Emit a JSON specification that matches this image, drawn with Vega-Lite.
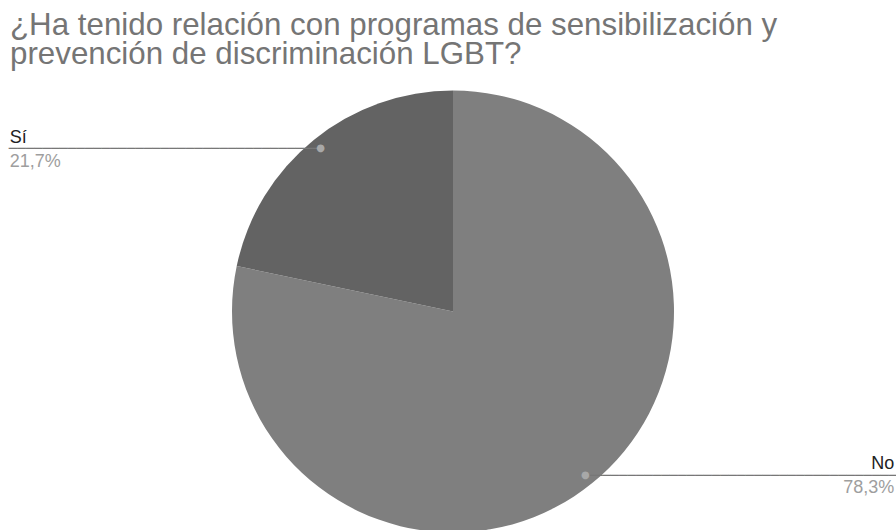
{
  "$schema": "https://vega.github.io/schema/vega-lite/v6.json",
  "width": 886,
  "height": 437,
  "autosize": {"type": "none"},
  "padding": {"left": 10, "top": 93, "right": 0, "bottom": 0},
  "background": "white",
  "title": {
    "text": ["¿Ha tenido relación con programas de sensibilización y", "prevención de discriminación LGBT?"],
    "anchor": "start",
    "frame": "group",
    "font": "Liberation Sans",
    "fontSize": 31.3,
    "fontWeight": "normal",
    "color": "#757575",
    "lineHeight": 29.5,
    "baseline": "alphabetic",
    "offset": -5
  },
  "data": {
    "values": [
      {"respuesta": "No", "proporcion": 0.783},
      {"respuesta": "Sí", "proporcion": 0.217}
    ]
  },
  "encoding": {
    "theta": {"field": "proporcion", "type": "quantitative", "stack": true},
    "order": {"field": "respuesta", "type": "ordinal", "sort": "ascending"}
  },
  "layer": [
    {
      "mark": {"type": "arc", "radius": 221, "strokeWidth": 0},
      "encoding": {
        "color": {
          "field": "respuesta",
          "type": "nominal",
          "scale": {"domain": ["No", "Sí"], "range": ["#7f7f7f", "#636363"]},
          "legend": null
        }
      }
    },
    {
      "mark": {"type": "text", "radius": 210, "align": "right", "baseline": "middle", "font": "DejaVu Sans Mono", "fontSize": 14, "color": "#777777", "dy": 1},
      "encoding": {
        "text": {"condition": {"test": "datum.respuesta === 'Sí'", "value": "─────────────────────────────────────"}, "value": ""}
      }
    },
    {
      "mark": {"type": "text", "radius": 210, "align": "left", "baseline": "middle", "font": "DejaVu Sans Mono", "fontSize": 14, "color": "#777777", "dy": 1},
      "encoding": {
        "text": {"condition": {"test": "datum.respuesta === 'No'", "value": "─────────────────────────────────────"}, "value": ""}
      }
    },
    {
      "mark": {"type": "text", "radius": 210, "align": "center", "baseline": "middle", "font": "DejaVu Sans", "fontSize": 10, "color": "#a8a8a8", "text": "●"}
    },
    {
      "mark": {"type": "text", "radius": 210, "align": "left", "baseline": "alphabetic", "font": "Liberation Sans", "fontSize": 18, "color": "#222222", "dx": -311, "dy": -5},
      "encoding": {
        "text": {"condition": {"test": "datum.respuesta === 'Sí'", "field": "respuesta", "type": "nominal"}, "value": ""}
      }
    },
    {
      "mark": {"type": "text", "radius": 210, "align": "left", "baseline": "alphabetic", "font": "Liberation Sans", "fontSize": 18, "color": "#9e9e9e", "dx": -311, "dy": 18.5},
      "encoding": {
        "text": {"condition": {"test": "datum.respuesta === 'Sí'", "field": "proporcion", "type": "quantitative", "format": ".1%"}, "value": ""}
      }
    },
    {
      "mark": {"type": "text", "radius": 210, "align": "right", "baseline": "alphabetic", "font": "Liberation Sans", "fontSize": 18, "color": "#222222", "dx": 309, "dy": -6},
      "encoding": {
        "text": {"condition": {"test": "datum.respuesta === 'No'", "field": "respuesta", "type": "nominal"}, "value": ""}
      }
    },
    {
      "mark": {"type": "text", "radius": 210, "align": "right", "baseline": "alphabetic", "font": "Liberation Sans", "fontSize": 18, "color": "#9e9e9e", "dx": 309, "dy": 18},
      "encoding": {
        "text": {"condition": {"test": "datum.respuesta === 'No'", "field": "proporcion", "type": "quantitative", "format": ".1%"}, "value": ""}
      }
    }
  ],
  "config": {
    "view": {"stroke": null},
    "locale": {"number": {"decimal": ",", "thousands": ".", "grouping": [3], "currency": ["", " €"]}}
  }
}
